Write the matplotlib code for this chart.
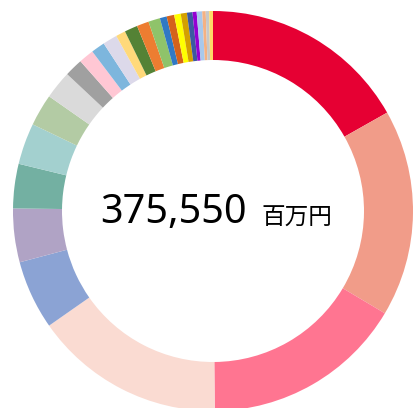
import matplotlib
matplotlib.use("Agg")
import matplotlib.pyplot as plt

# 百万円 (total 375,550)
valores = [63113, 62800, 61235, 57897, 20968, 16274, 13457, 12518, 9702, 8554,
           5529, 4590, 4173, 4381, 2921, 3964, 3651, 3547, 2086, 2295,
           1982, 1878, 1669, 1252, 1669, 1043, 1043, 1148]
colores = ['#e60033', '#f19c89', '#ff7591', '#fadbd2', '#8ba3d4', '#b0a3c5',
           '#73b0a2', '#a3d0cf', '#b3cba4', '#dadada', '#a0a0a0', '#ffc7d4',
           '#7db6dd', '#dcd9ea', '#ffd97a', '#548235', '#ed7d31', '#8fc36a',
           '#3079c4', '#d5621b', '#ffff00', '#d4a000', '#3c5aa0', '#9400d3',
           '#a8c8ec', '#f4b183', '#c8c8c8', '#ffd966']
total_texto = '375,550'
unidad = '百万円'

W, H = 413, 408
fig = plt.figure(figsize=(W / 100, H / 100), dpi=100)
cx, cy, r = 213, 211, 200
ax = fig.add_axes([(cx - r) / W, (H - cy - r) / H, 2 * r / W, 2 * r / H])
ax.pie(valores, colors=colores, startangle=90, counterclock=False, radius=1,
       wedgeprops=dict(width=0.245, linewidth=0))
ax.set_xlim(-1, 1)
ax.set_ylim(-1, 1)
ax.axis('off')

base = (H - 223.3) / H
fig.text(246.7 / W, base, total_texto, ha='right', va='baseline',
         fontsize=28.5, family=['Noto Sans', 'DejaVu Sans'], color='black')
fig.text(261 / W, base - 1 / H, unidad, ha='left', va='baseline',
         fontsize=17, family=['Noto Sans CJK JP', 'DejaVu Sans'], color='black')

fig.savefig('out.png', dpi=100)
